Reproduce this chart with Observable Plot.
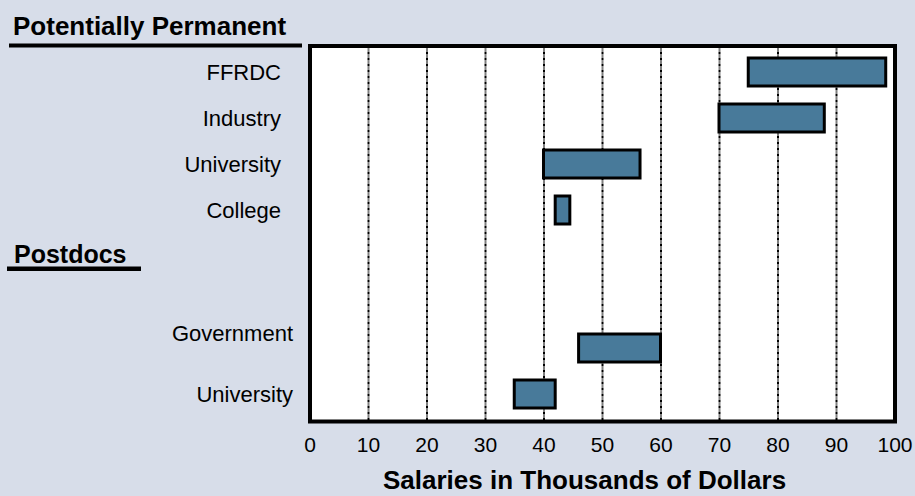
<!DOCTYPE html>
<html><head><meta charset="utf-8">
<script src="https://cdn.jsdelivr.net/npm/d3@7"></script>
<script src="https://cdn.jsdelivr.net/npm/@observablehq/plot@0.6"></script>
<style>
html,body{margin:0;padding:0;background:#d7dde9;}
#chart{position:relative;width:915px;height:496px;}
svg{display:block;}
</style></head><body><div id="chart"></div>
<script>
// Data
const groupHeaders = ["Potentially Permanent", "Postdocs"];
const sectors = ["FFRDC", "Industry", "University", "College", "Government", "University"];
const groups = ["Potentially Permanent", "Potentially Permanent", "Potentially Permanent", "Potentially Permanent", "Postdocs", "Postdocs"];
const low = [75, 70, 40, 42, 46, 35];
const high = [98.5, 88, 56.5, 44.5, 60, 42];
const xTicks = [0, 10, 20, 30, 40, 50, 60, 70, 80, 90, 100];
const gridTicks = [10, 20, 30, 40, 50, 60, 70, 80, 90];
const xTitle = "Salaries in Thousands of Dollars";

const rows = sectors.map((s, i) => ({key: groups[i] + "|" + s, sector: s, group: groups[i], low: low[i], high: high[i]}));
const topKeys = rows.filter(r => r.group === groupHeaders[0]).map(r => r.key);
const botKeys = rows.filter(r => r.group === groupHeaders[1]).map(r => r.key);
const yDomain = [...topKeys, "spacer-1", "spacer-2", ...botKeys];
const labelOf = new Map(rows.map(r => [r.key, r.sector]));

const plot = Plot.plot({
  width: 915, height: 496,
  marginLeft: 309.5, marginRight: 20.5, marginTop: 45.5, marginBottom: 75,
  style: {background: "transparent", fontFamily: "'Liberation Sans', Arial, sans-serif", fontSize: "21px", color: "black", overflow: "visible"},
  x: {domain: [0, 100]},
  y: {domain: yDomain, paddingInner: 0.4, paddingOuter: 0.2},
  marks: [
    Plot.frame({fill: "white", stroke: null}),
    Plot.ruleX(gridTicks, {stroke: "black", strokeWidth: 2, strokeDasharray: "3,1,1,1"}),
    Plot.barX(rows, {x1: "low", x2: "high", y: "key", fill: "#487a9a", stroke: "black", strokeWidth: 3}),
    Plot.frame({stroke: "black", strokeWidth: 4}),
    Plot.axisX(xTicks, {tickSize: 0, tickPadding: 16, label: null}),
    Plot.axisY(topKeys, {tickSize: 0, tickPadding: 29, fontSize: 22, tickFormat: k => labelOf.get(k), label: null}),
    Plot.axisY([botKeys[0]], {tickSize: 0, tickPadding: 17, fontSize: 22, dy: -15, tickFormat: k => labelOf.get(k), label: null}),
    Plot.axisY(botKeys.slice(1), {tickSize: 0, tickPadding: 17, fontSize: 22, tickFormat: k => labelOf.get(k), label: null})
  ]
});
document.getElementById("chart").appendChild(plot);

const svg = d3.select(plot);
const y = plot.scale("y");
const bw = y.bandwidth;
const headerFont = "'Liberation Sans', Arial, sans-serif";

// Group header 1 (above the frame)
svg.append("text").attr("x", 13).attr("y", 35).attr("text-anchor", "start")
  .attr("font-family", headerFont).attr("font-size", 26).attr("font-weight", "bold").attr("fill", "black")
  .text(groupHeaders[0]);
svg.append("rect").attr("x", 9).attr("y", 43.5).attr("width", 293).attr("height", 4).attr("fill", "black");

// Group header 2 (on first spacer row)
const yc = y.apply("spacer-1") + bw / 2;
svg.append("text").attr("x", 14).attr("y", yc + 6.5).attr("text-anchor", "start")
  .attr("font-family", headerFont).attr("font-size", 25).attr("font-weight", "bold").attr("fill", "black")
  .text(groupHeaders[1]);
svg.append("rect").attr("x", 7).attr("y", yc + 10.5).attr("width", 134).attr("height", 4.5).attr("fill", "black");

// X title
svg.append("text").attr("x", 383).attr("y", 489).attr("text-anchor", "start")
  .attr("font-family", headerFont).attr("font-size", 26).attr("font-weight", "bold").attr("fill", "black")
  .text(xTitle);
</script></body></html>
